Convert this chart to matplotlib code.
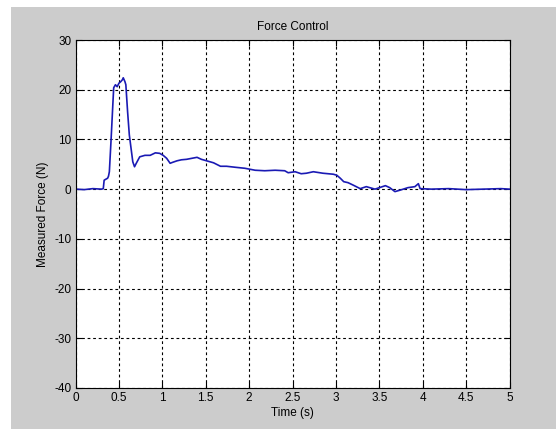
import matplotlib.pyplot as plt
from matplotlib.patches import Rectangle

plt.rcParams['font.family'] = ['Liberation Sans', 'DejaVu Sans']
plt.rcParams['axes.unicode_minus'] = False

# values
time_s = [0.00, 0.10, 0.20, 0.30, 0.32, 0.33, 0.35, 0.37, 0.38, 0.39,
          0.41, 0.43, 0.44, 0.46, 0.48, 0.50, 0.52, 0.54, 0.55, 0.57,
          0.58, 0.60, 0.62, 0.64, 0.66, 0.68, 0.70, 0.74, 0.80, 0.86,
          0.92, 0.97, 1.01, 1.05, 1.09, 1.12, 1.17, 1.22, 1.28, 1.34,
          1.40, 1.45, 1.51, 1.59, 1.67, 1.74, 1.84, 1.95, 2.07, 2.18,
          2.30, 2.41, 2.45, 2.53, 2.60, 2.66, 2.74, 2.85, 2.97, 3.01,
          3.05, 3.09, 3.14, 3.20, 3.28, 3.35, 3.45, 3.57, 3.62, 3.68,
          3.74, 3.83, 3.91, 3.95, 3.97, 4.10, 4.30, 4.50, 4.70, 4.90,
          5.00]
force_n = [0.0, -0.1, 0.1, 0.0, 0.1, 1.8, 2.0, 2.2, 2.6, 3.5,
           10.0, 17.0, 20.4, 21.0, 20.6, 21.3, 21.6, 22.0, 22.4, 21.6,
           21.0, 15.6, 10.9, 8.2, 5.5, 4.5, 5.2, 6.5, 6.8, 6.8,
           7.3, 7.2, 6.8, 6.2, 5.2, 5.4, 5.7, 5.9, 6.0, 6.2,
           6.4, 6.0, 5.7, 5.3, 4.6, 4.6, 4.4, 4.2, 3.8, 3.7,
           3.8, 3.7, 3.3, 3.5, 3.1, 3.2, 3.5, 3.2, 3.0, 2.8,
           2.2, 1.5, 1.3, 0.8, 0.1, 0.5, 0.0, 0.7, 0.3, -0.5,
           -0.2, 0.3, 0.5, 1.1, 0.1, 0.0, 0.1, -0.1, 0.0, 0.1,
           0.0]

x_ticks = [0, 0.5, 1, 1.5, 2, 2.5, 3, 3.5, 4, 4.5, 5]
x_labels = ['0', '0.5', '1', '1.5', '2', '2.5', '3', '3.5', '4', '4.5', '5']
y_ticks = [-40, -30, -20, -10, 0, 10, 20, 30]

fig = plt.figure(figsize=(5.56, 4.32), dpi=100, facecolor='white')
# MATLAB-style gray figure panel, kept behind the axes
panel = Rectangle((0.0198, 0.008), 0.9802, 0.976,
                  transform=fig.transFigure, facecolor='#cccccc',
                  edgecolor='none', zorder=-10)
fig.add_artist(panel)

ax = fig.add_axes([0.1358, 0.1019, 0.7806, 0.8055])
ax.set_facecolor('white')
ax.plot(time_s, force_n, color='#1a1ab4', linewidth=1.2)

ax.set_xlim(0, 5)
ax.set_ylim(-40, 30)
ax.set_xticks(x_ticks)
ax.set_xticklabels(x_labels)
ax.set_yticks(y_ticks)
ax.grid(True, color='black', linestyle=(0, (2.5, 2.5)), linewidth=0.8)
ax.tick_params(direction='in', top=True, right=True, length=4,
               labelsize=8.5, pad=3, colors='black')
for s in ax.spines.values():
    s.set_linewidth(0.8)

ax.set_title('Force Control', fontsize=8.5, pad=7)
ax.set_xlabel('Time (s)', fontsize=8.5, labelpad=2)
ax.set_ylabel('Measured Force (N)', fontsize=8.5, labelpad=4)

fig.savefig('out.png', dpi=100, facecolor=fig.get_facecolor())
